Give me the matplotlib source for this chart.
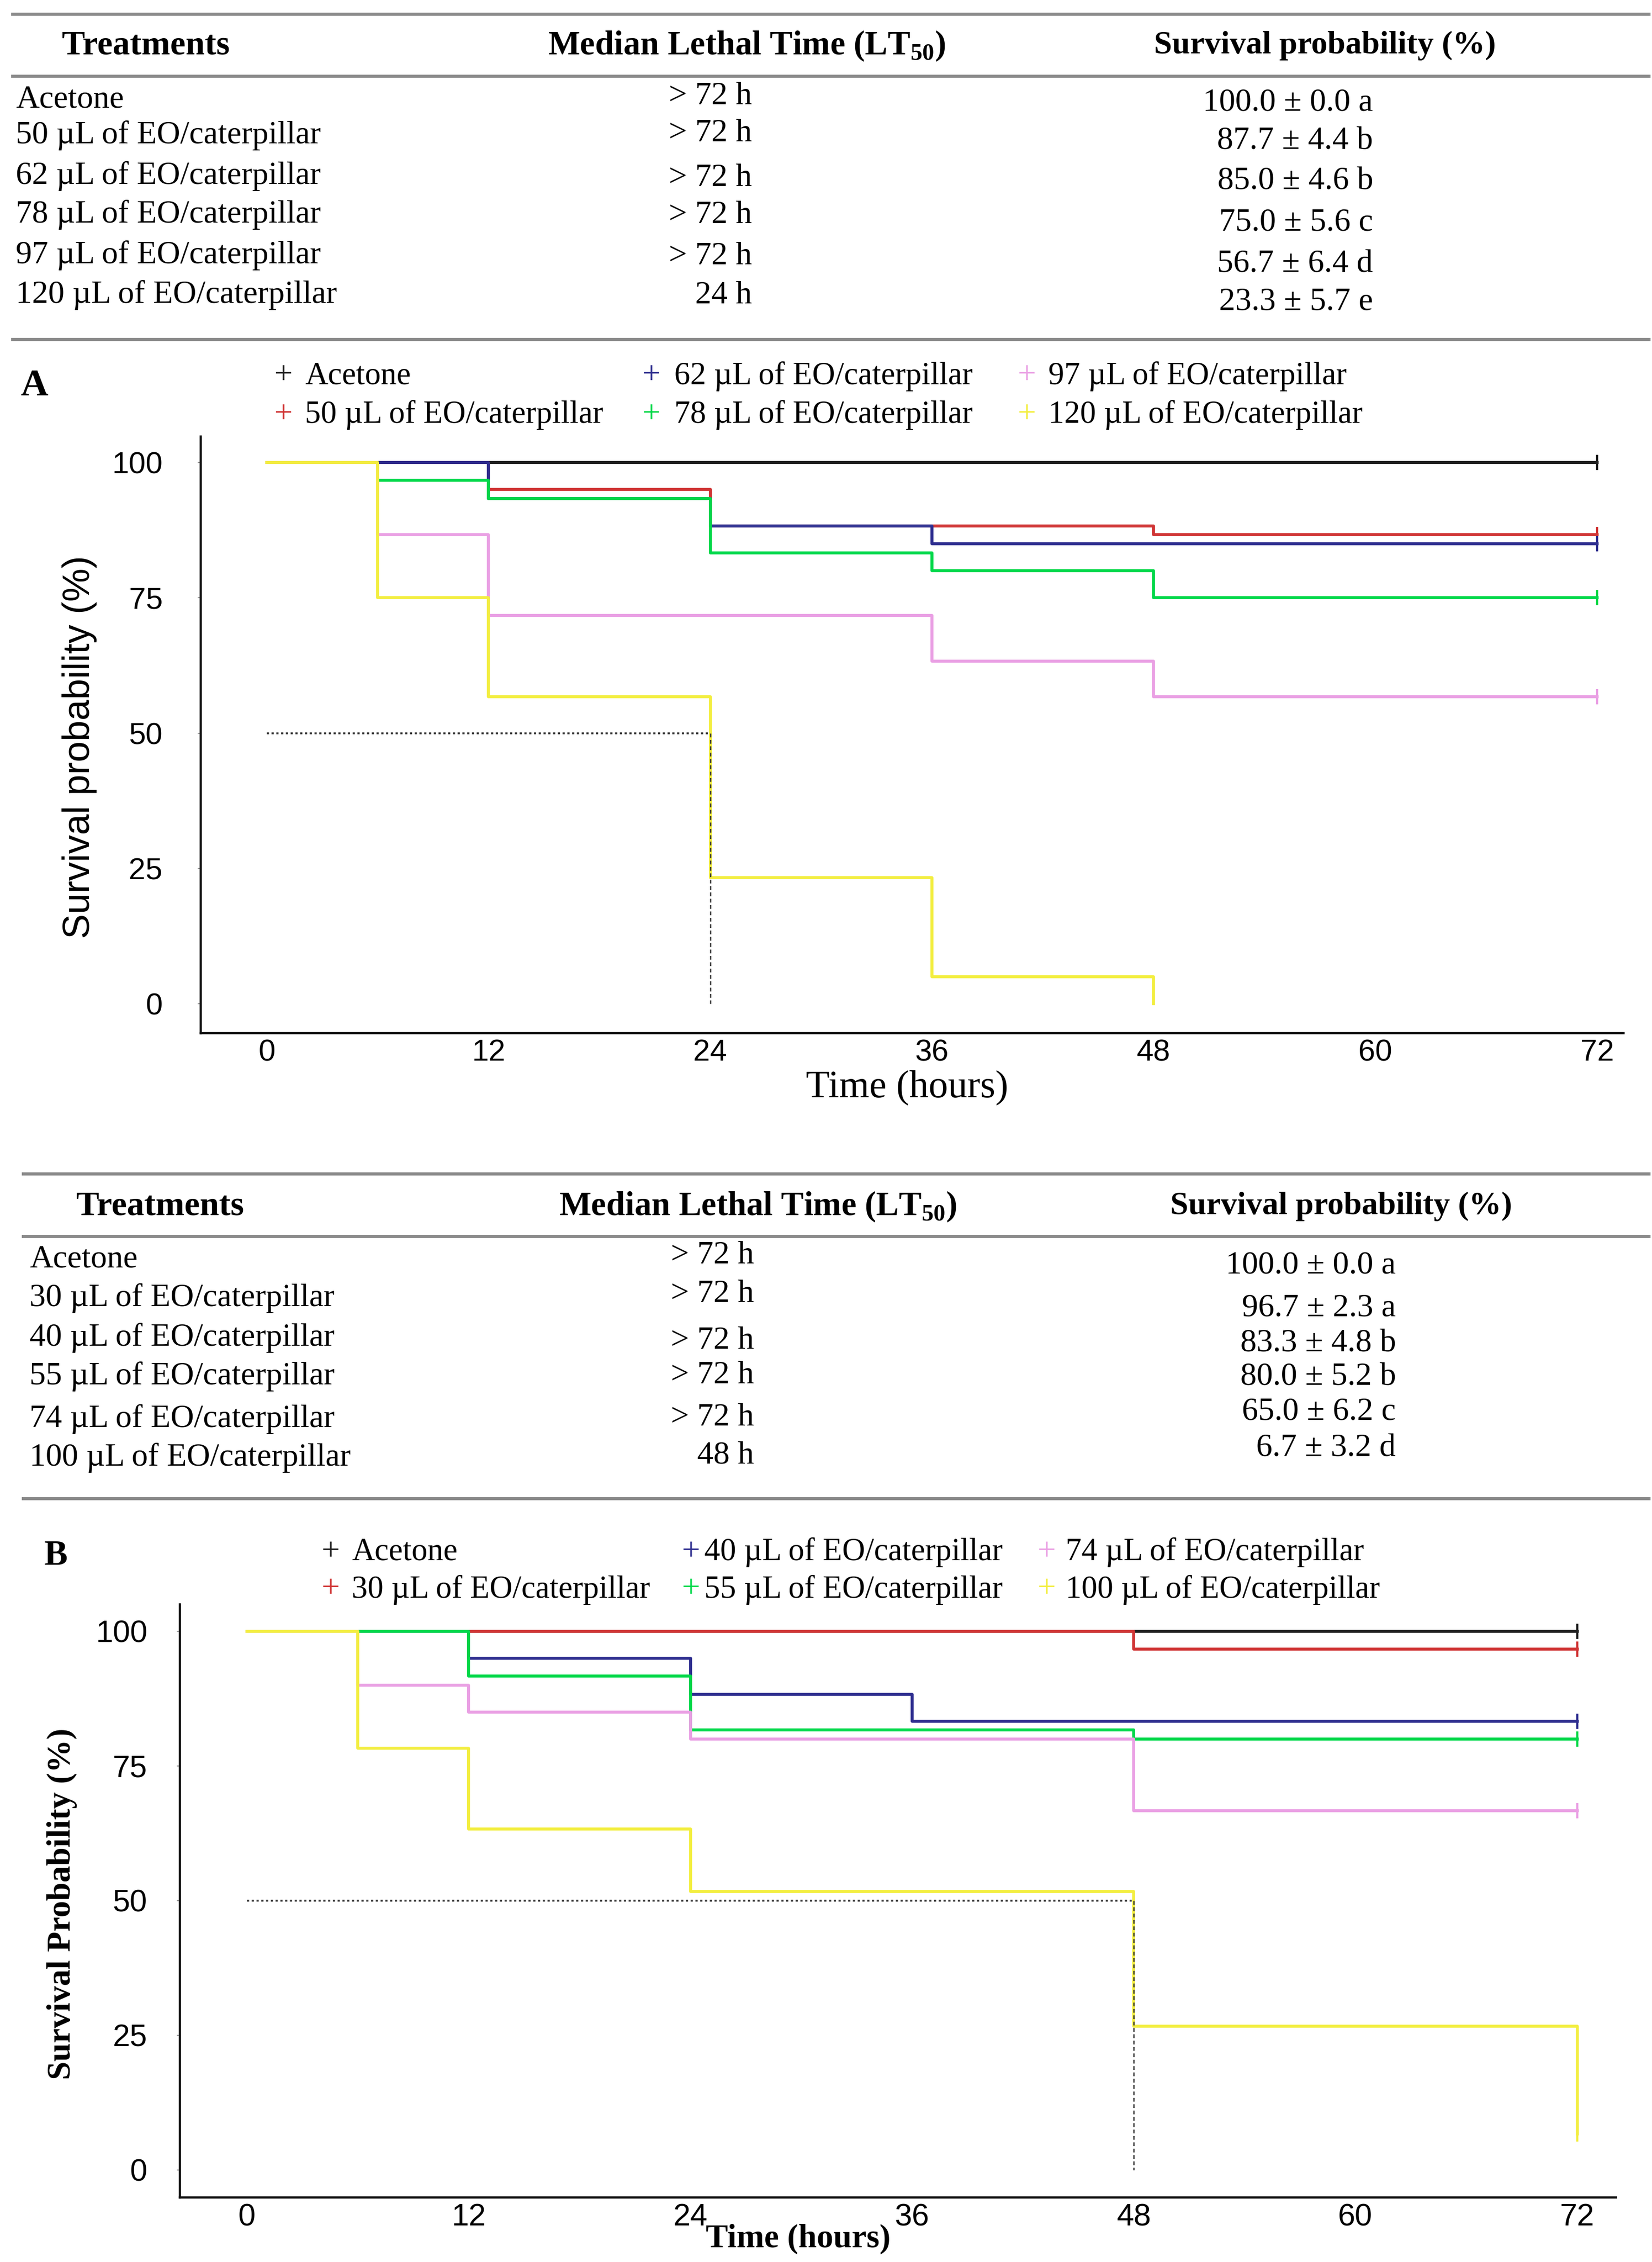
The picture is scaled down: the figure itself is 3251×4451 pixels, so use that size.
import numpy as np
import matplotlib
matplotlib.use("Agg")
import matplotlib.pyplot as plt

W = 3251
H = 4451

# ---- table above panel A
treat_a = ["Acetone", "50 µL of EO/caterpillar", "62 µL of EO/caterpillar",
           "78 µL of EO/caterpillar", "97 µL of EO/caterpillar", "120 µL of EO/caterpillar"]
lt50_a = ["> 72 h", "> 72 h", "> 72 h", "> 72 h", "> 72 h", "24 h"]
surv_a = ["100.0 ± 0.0 a", "87.7 ± 4.4 b", "85.0 ± 4.6 b",
          "75.0 ± 5.6 c", "56.7 ± 6.4 d", "23.3 ± 5.7 e"]

# ---- table above panel B
treat_b = ["Acetone", "30 µL of EO/caterpillar", "40 µL of EO/caterpillar",
           "55 µL of EO/caterpillar", "74 µL of EO/caterpillar", "100 µL of EO/caterpillar"]
lt50_b = ["> 72 h", "> 72 h", "> 72 h", "> 72 h", "> 72 h", "48 h"]
surv_b = ["100.0 ± 0.0 a", "96.7 ± 2.3 a", "83.3 ± 4.8 b",
          "80.0 ± 5.2 b", "65.0 ± 6.2 c", "6.7 ± 3.2 d"]

headers = ["Treatments", r"Median Lethal Time (LT$_{\mathbf{50}}$)", "Survival probability (%)"]

# ---- Kaplan-Meier survival (%) at each time (hours)
times = [0, 6, 12, 24, 36, 48, 72]

a_acetone = [100, 100, 100, 100, 100, 100, 100]
a_50 = [100, 100, 95, 88.3, 88.3, 86.7, 86.7]
a_62 = [100, 100, 93.3, 88.3, 85, 85, 85]
a_78 = [100, 96.7, 93.3, 83.3, 80, 75, 75]
a_97 = [100, 86.7, 71.7, 71.7, 63.3, 56.7, 56.7]
a_120 = [100, 75, 56.7, 23.3, 5, 0]
median_a = 24

b_acetone = [100, 100, 100, 100, 100, 100, 100]
b_30 = [100, 100, 100, 100, 100, 96.7, 96.7]
b_40 = [100, 100, 95, 88.3, 83.3, 83.3, 83.3]
b_55 = [100, 100, 91.7, 81.7, 81.7, 80, 80]
b_74 = [100, 90, 85, 80, 80, 66.7, 66.7]
b_100 = [100, 78.3, 63.3, 51.7, 51.7, 26.7, 6.7]
median_b = 48

colors = ["#1f1f1f", "#d03434", "#2e2e8f", "#00d84a", "#eaa0e4", "#f3ee40"]

plt.rcParams["mathtext.fontset"] = "custom"
plt.rcParams["mathtext.rm"] = "Liberation Serif"
plt.rcParams["mathtext.bf"] = "Liberation Serif:bold"

SERIF = "Liberation Serif"
SANS = "Liberation Sans"


def fx(x):
    return x / W


def fy(y):
    return 1 - y / H


fig = plt.figure(figsize=(W / 100, H / 100), dpi=100)


def hrule(y, x0, x1):
    fig.add_artist(plt.Line2D([fx(x0), fx(x1)], [fy(y), fy(y)], color="#8a8a8a", lw=4.5,
                              transform=fig.transFigure))


def table(top, mid, bot, x0, head_y, head_x, treat, lt50, surv, c1, c2, c3, x1, x2r, x3r):
    hrule(top, x0, 3245)
    hrule(mid, x0, 3245)
    hrule(bot, x0, 3245)
    for h, hx, hs in zip(headers, head_x, [49, 48, 46]):
        fig.text(fx(hx), fy(head_y), h, family=SERIF, weight="bold", fontsize=hs,
                 ha="left", va="center")
    for i in range(len(treat)):
        fig.text(fx(x1), fy(c1[i]), treat[i], family=SERIF, fontsize=46, ha="left", va="center")
        fig.text(fx(x2r), fy(c2[i]), lt50[i], family=SERIF, fontsize=46, ha="right", va="center")
        fig.text(fx(x3r), fy(c3[i]), surv[i], family=SERIF, fontsize=46, ha="right", va="center")


table(28, 150, 668, 25, 90, [122, 1078, 2271], treat_a, lt50_a, surv_a,
      [196, 267, 347, 423, 502, 581], [190, 263, 351, 424, 505, 582],
      [203, 279, 357, 439, 521, 594], 31, 1480, 2702)

table(2310, 2433, 2949, 46, 2374, [150, 1100, 2303], treat_b, lt50_b, surv_b,
      [2478, 2554, 2632, 2709, 2792, 2868], [2471, 2547, 2639, 2707, 2790, 2864],
      [2491, 2574, 2644, 2711, 2778, 2850], 58, 1484, 2747)


def legend(labels, mx, tx, ry):
    for i, lab in enumerate(labels):
        col = i // 2
        row = i % 2
        fig.text(fx(mx[col]), fy(ry[row]), "+", color=colors[i], family=SERIF, fontsize=46,
                 ha="center", va="center")
        fig.text(fx(tx[col]), fy(ry[row]), lab, family=SERIF, fontsize=45,
                 ha="left", va="center")


def km_panel(box, xlim, ylim, curves, median, labsize):
    left, top, right, bottom = box
    ax = fig.add_axes([fx(left), fy(bottom), (right - left) / W, (bottom - top) / H])
    for k, s in enumerate(curves):
        t = times[:len(s)]
        ax.step(t, s, where="post", color=colors[k], lw=4.2, zorder=2 + k)
        if t[-1] == 72 and s[-1] > 0:
            ax.plot([72], [s[-1]], marker="|", ms=22, mew=3, color=colors[k], zorder=2 + k)
    ax.plot([0, median], [50, 50], color="#333333", lw=2.6, ls=(0, (1.2, 1.4)), zorder=10)
    ax.plot([median, median], [50, 0], color="#333333", lw=1.8, ls=(0, (3, 2)), zorder=10)
    ax.set_xlim(xlim)
    ax.set_ylim(ylim)
    ax.set_xticks([0, 12, 24, 36, 48, 60, 72])
    ax.set_yticks([0, 25, 50, 75, 100])
    for sp in ["top", "right"]:
        ax.spines[sp].set_visible(False)
    for sp in ["left", "bottom"]:
        ax.spines[sp].set_linewidth(3.2)
        ax.spines[sp].set_color("#111111")
    for lab in ax.get_xticklabels() + ax.get_yticklabels():
        lab.set_family(SANS)
        lab.set_fontsize(labsize)
    return ax


# ---- panel A
fig.text(fx(67), fy(760), "A", family=SERIF, weight="bold", fontsize=54, ha="center", va="center")
legend(treat_a, [558, 1282, 2021], [600, 1327, 2063], [740, 817])
ax1 = km_panel((395, 859, 3195, 2033), (-3.575, 73.43), (-5.45, 104.8),
               [a_acetone, a_50, a_62, a_78, a_97, a_120], median_a, 43)
ax1.tick_params(axis="y", length=4, width=1.5, color="#999999", pad=50)
ax1.tick_params(axis="x", length=0, pad=8)
ax1.set_ylabel("Survival probability (%)", family=SANS, fontsize=53)
ax1.yaxis.set_label_coords((157 - 395) / 2800, (2033 - 1470) / 1174)
ax1.set_xlabel("Time (hours)", family=SERIF, fontsize=55)
ax1.xaxis.set_label_coords((1785 - 395) / 2800, -(2140 - 2033) / 1174)
ax1.xaxis.label.set_va("center")
ax1.yaxis.label.set_va("center")

# ---- panel B
fig.text(fx(110), fy(3062), "B", family=SERIF, weight="bold", fontsize=50, ha="center", va="center")
legend(treat_b, [651, 1360, 2060], [692, 1386, 2097], [3055, 3128])
ax2 = km_panel((354, 3157, 3180, 4324), (-3.63, 74.1), (-5.1, 105),
               [b_acetone, b_30, b_40, b_55, b_74, b_100], median_b, 44)
ax2.tick_params(axis="y", length=4, width=1.5, color="#999999", pad=42)
ax2.tick_params(axis="x", length=0, pad=8)
ax2.set_ylabel("Survival Probability (%)", family=SERIF, weight="bold", fontsize=47)
ax2.yaxis.set_label_coords((122 - 354) / 2826, (4324 - 3746) / 1167)
ax2.set_xlabel("Time (hours)", family=SERIF, weight="bold", fontsize=47)
ax2.xaxis.set_label_coords((1571 - 354) / 2826, -(4406 - 4324) / 1167)
ax2.xaxis.label.set_va("center")
ax2.yaxis.label.set_va("center")

fig.savefig("out.png", dpi=100)
